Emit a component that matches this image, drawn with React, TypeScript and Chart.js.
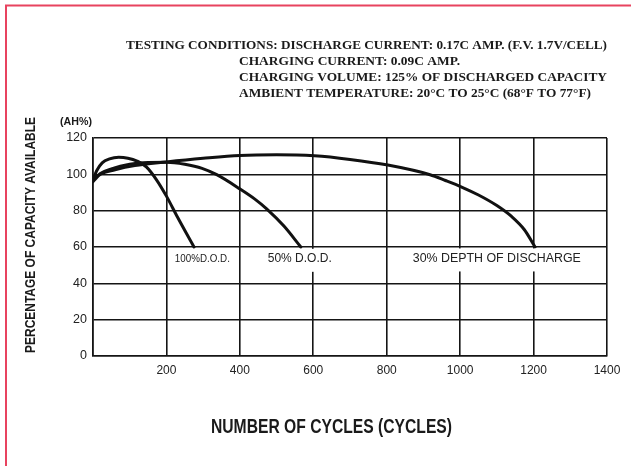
import React, { useEffect, useRef } from "react";
import { Chart, registerables } from "chart.js";

Chart.register(...registerables);

// ---- data ----
const dod100X = [0, 10, 25, 45, 70, 95, 120, 146, 173, 200, 230, 275];
const dod100Y = [97, 102, 106.3, 108.5, 109.4, 108.9, 107.3, 104, 97, 88, 76.5, 60];

const dod50X = [0, 20, 50, 100, 150, 200, 250, 297, 337, 400, 440, 473, 520, 566];
const dod50Y = [97, 100.5, 103, 105.5, 106.5, 106.6, 105.5, 103.3, 99.8, 92, 86.5, 81, 71.5, 60];

const dod30X = [0, 20, 60, 114, 200, 300, 400, 500, 603, 700, 803, 918, 960, 1004, 1050, 1100, 1140, 1175, 1204];
const dod30Y = [96, 100, 102.5, 104.8, 106.8, 108.8, 110.4, 110.8, 110.2, 108.2, 105.1, 99.8, 96.6, 93, 88.6, 82.8, 76.8, 69.5, 60];

const xTicks = [0, 200, 400, 600, 800, 1000, 1200, 1400];
const yTicks = [0, 20, 40, 60, 80, 100, 120];

const curveLabels = ["100%D.O.D.", "50% D.O.D.", "30% DEPTH OF DISCHARGE"];
const curveLabelX = [223, 476, 871];
const curveLabelY = [53.5, 53.5, 53.7];

const headerLines = [
  "TESTING CONDITIONS: DISCHARGE CURRENT: 0.17C AMP. (F.V. 1.7V/CELL)",
  "CHARGING CURRENT: 0.09C AMP.",
  "CHARGING VOLUME: 125% OF DISCHARGED CAPACITY",
  "AMBIENT TEMPERATURE: 20\u00B0C TO 25\u00B0C (68\u00B0F TO 77\u00B0F)",
];
const yTitle = "PERCENTAGE OF CAPACITY AVAILABLE";
const xTitle = "NUMBER OF CYCLES (CYCLES)";
const unitLabel = "(AH%)";

function pts(xs: number[], ys: number[]) {
  return xs.map((x, i) => ({ x, y: ys[i] }));
}

function fitText(
  ctx: CanvasRenderingContext2D,
  text: string,
  x: number,
  y: number,
  targetW: number,
  align: "left" | "center"
) {
  const w = ctx.measureText(text).width;
  const s = targetW / w;
  ctx.save();
  ctx.translate(x, y);
  ctx.scale(s, 1);
  ctx.textAlign = "left";
  ctx.fillText(text, align === "center" ? -w / 2 : 0, 0);
  ctx.restore();
}

const decorPlugin = {
  id: "decor",
  beforeDraw(chart: any) {
    const ctx = chart.ctx as CanvasRenderingContext2D;
    ctx.save();
    ctx.fillStyle = "#ffffff";
    ctx.fillRect(0, 0, chart.width, chart.height);
    ctx.strokeStyle = "#e8435f";
    ctx.lineWidth = 2;
    ctx.beginPath();
    ctx.moveTo(6, chart.height);
    ctx.lineTo(6, 5.5);
    ctx.lineTo(chart.width, 5.5);
    ctx.stroke();
    ctx.restore();
  },
  afterDatasetsDraw(chart: any) {
    const ctx = chart.ctx as CanvasRenderingContext2D;
    const xs = chart.scales.x;
    const ys = chart.scales.y;
    ctx.save();
    ctx.textBaseline = "middle";
    const widths = [55, 64, 168];
    const sizes = [11.5, 12, 12];
    curveLabels.forEach((t, i) => {
      const px = xs.getPixelForValue(curveLabelX[i]);
      const py = ys.getPixelForValue(curveLabelY[i]);
      ctx.fillStyle = "#ffffff";
      ctx.fillRect(px - 4, py - 10, widths[i] + 8, 23);
      ctx.fillStyle = "#222";
      ctx.font = `${sizes[i]}px "Liberation Sans", Arial, sans-serif`;
      fitText(ctx, t, px, py, widths[i], "left");
    });
    ctx.restore();
  },
  afterDraw(chart: any) {
    const ctx = chart.ctx as CanvasRenderingContext2D;
    ctx.save();
    ctx.fillStyle = "#1a1a1a";
    ctx.textBaseline = "middle";
    // header
    ctx.font = 'bold 12.8px "Liberation Serif", "Times New Roman", serif';
    const hx = [126, 239, 239, 239];
    const hy = [46, 62, 78, 94];
    const hw = [481, 221, 368, 352];
    headerLines.forEach((t, i) => fitText(ctx, t, hx[i], hy[i], hw[i], "left"));
    // unit
    ctx.font = 'bold 11px "Liberation Sans", Arial, sans-serif';
    fitText(ctx, unitLabel, 60, 122, 32, "left");
    // x title
    ctx.font = 'bold 20px "Liberation Sans", Arial, sans-serif';
    fitText(ctx, xTitle, 331.5, 427, 241, "center");
    // y title
    ctx.font = 'bold 14px "Liberation Sans", Arial, sans-serif';
    ctx.save();
    ctx.translate(31, 235);
    ctx.rotate(-Math.PI / 2);
    fitText(ctx, yTitle, 0, 0, 236, "center");
    ctx.restore();
    ctx.restore();
  },
};

export default function App() {
  const ref = useRef<HTMLCanvasElement | null>(null);
  useEffect(() => {
    if (!ref.current) return;
    const lineStyle = {
      borderColor: "#111",
      borderWidth: 3,
      pointRadius: 0,
      cubicInterpolationMode: "monotone" as const,
      fill: false,
      borderCapStyle: "round" as const,
    };
    const chart = new Chart(ref.current, {
      type: "line",
      data: {
        datasets: [
          { label: "100% D.O.D.", data: pts(dod100X, dod100Y), ...lineStyle },
          { label: "50% D.O.D.", data: pts(dod50X, dod50Y), ...lineStyle },
          { label: "30% DEPTH OF DISCHARGE", data: pts(dod30X, dod30Y), ...lineStyle },
        ],
      },
      options: {
        animation: false,
        responsive: false,
        maintainAspectRatio: false,
        layout: { padding: { left: 0, right: 24, top: 138, bottom: 0 } },
        plugins: { legend: { display: false }, tooltip: { enabled: false } },
        scales: {
          x: {
            type: "linear",
            min: xTicks[0],
            max: xTicks[xTicks.length - 1],
            afterBuildTicks: (s: any) => {
              s.ticks = xTicks.map((v) => ({ value: v }));
            },
            afterFit: (s: any) => {
              s.height = 110;
            },
            ticks: {
              padding: 7,
              color: "#222",
              font: { family: '"Liberation Sans", Arial, sans-serif', size: 12 },
              maxRotation: 0,
              callback: (v: any) => (v === 0 ? "" : String(v)),
            },
            grid: { color: "#151515", lineWidth: 1.6, drawTicks: false },
            border: { color: "#151515", width: 1.6 },
          },
          y: {
            type: "linear",
            min: yTicks[0],
            max: yTicks[yTicks.length - 1],
            afterBuildTicks: (s: any) => {
              s.ticks = yTicks.map((v) => ({ value: v }));
            },
            afterFit: (s: any) => {
              s.width = 93;
            },
            ticks: {
              padding: 6,
              color: "#222",
              font: { family: '"Liberation Sans", Arial, sans-serif', size: 12.5 },
            },
            grid: { color: "#151515", lineWidth: 1.6, drawTicks: false },
            border: { color: "#151515", width: 1.6 },
          },
        },
      },
      plugins: [decorPlugin],
    });
    return () => chart.destroy();
  }, []);
  return (
    <div style={{ position: "absolute", left: 0, top: 0, width: 631, height: 466, background: "#fff" }}>
      <canvas ref={ref} width={631} height={466} style={{ display: "block" }} />
    </div>
  );
}
